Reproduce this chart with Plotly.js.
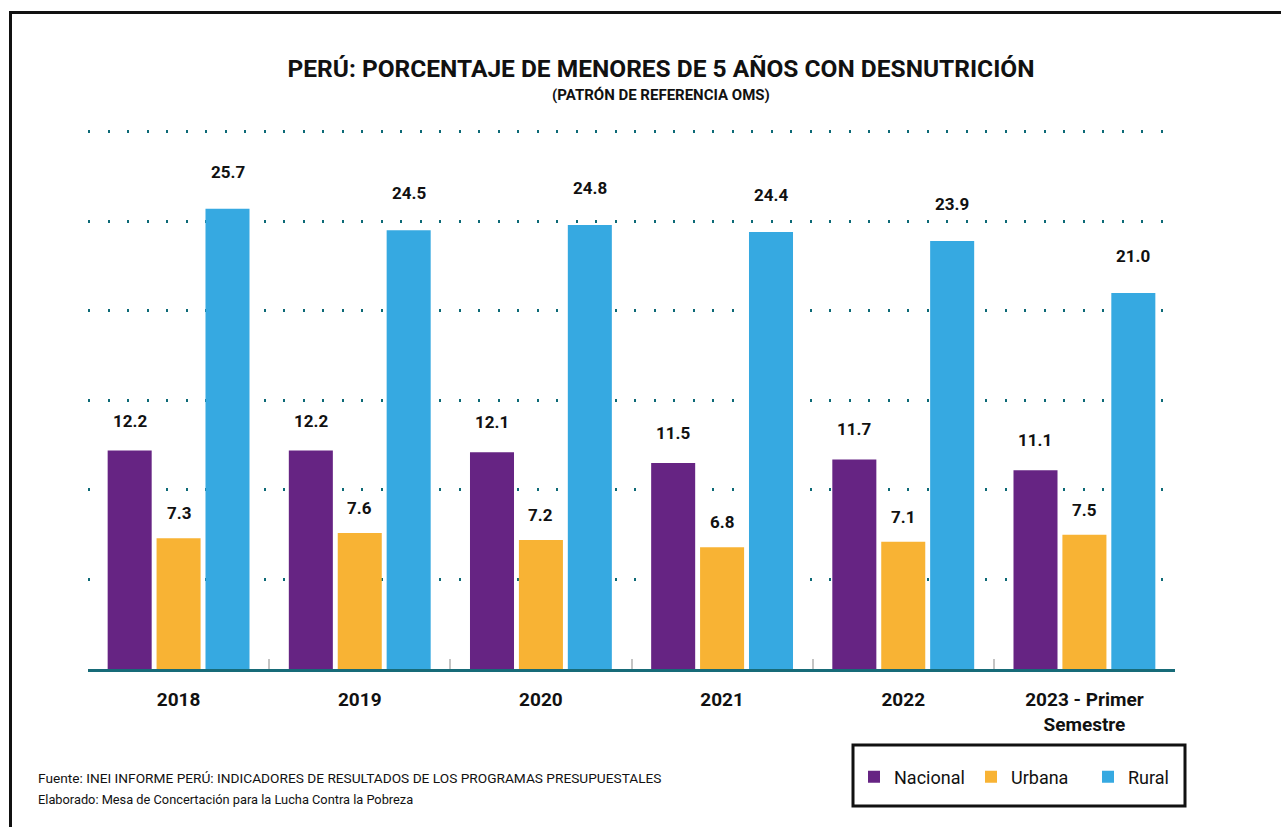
<!DOCTYPE html>
<html>
<head>
<meta charset="utf-8">
<script src="https://cdn.plot.ly/plotly-3.0.1.min.js"></script>
<style>
html,body{margin:0;padding:0;background:#fff;}
#wrap{position:relative;width:1281px;height:827px;}
#chart{position:absolute;left:0;top:0;width:1281px;height:827px;}
#frame{position:absolute;left:9px;top:11px;width:1272px;height:816px;border-left:3px solid #111;border-top:3px solid #111;box-sizing:border-box;pointer-events:none;}
</style>
</head>
<body>
<div id="wrap"><div id="chart"></div><div id="frame"></div></div>
<script>
const categories = ['2018', '2019', '2020', '2021', '2022', '2023 - Primer<br>Semestre'];
const nacional = [12.2, 12.2, 12.1, 11.5, 11.7, 11.1];
const urbana = [7.3, 7.6, 7.2, 6.8, 7.1, 7.5];
const rural = [25.7, 24.5, 24.8, 24.4, 23.9, 21.0];
const seriesNames = ['Nacional', 'Urbana', 'Rural'];
const seriesColors = ['#662483', '#F8B334', '#36A9E1'];

const FONT = 'Roboto, "Liberation Sans", Arial, sans-serif';
const allSeries = [nacional, urbana, rural];

// plot area geometry (pixels)
const L = 88, R = 106, T = 130, B = 158, W = 1281, H = 827;
const PW = W - L - R, PH = H - T - B;
const px2x = p => (p - L) / PW;
const py2y = p => (H - B - p) / PH;

const traces = allSeries.map((vals, i) => ({
  type: 'bar',
  name: seriesNames[i],
  x: categories,
  y: vals,
  marker: {color: seriesColors[i], line: {width: 0}},
  hoverinfo: 'x+y+name'
}));

const xShifts = [-49, 0, 49];
const yShifts = [30, 25, 37];
const annotations = [];
allSeries.forEach((vals, i) => {
  vals.forEach((v, j) => {
    annotations.push({
      x: j, y: v, xref: 'x', yref: 'y',
      text: v.toFixed(1), showarrow: false,
      xshift: xShifts[i], yshift: yShifts[i],
      font: {family: FONT, size: 17, color: '#111', weight: 'bold'}
    });
  });
});

annotations.push({
  xref: 'paper', yref: 'paper', x: px2x(661), y: py2y(95),
  xanchor: 'center', yanchor: 'middle', showarrow: false,
  text: '(PATRÓN DE REFERENCIA OMS)',
  font: {family: FONT, size: 15, color: '#111', weight: 'bold'}
});
annotations.push({
  xref: 'paper', yref: 'paper', x: px2x(36), y: py2y(778),
  xanchor: 'left', yanchor: 'middle', align: 'left', showarrow: false,
  text: 'Fuente: INEI INFORME PERÚ: INDICADORES DE RESULTADOS DE LOS PROGRAMAS PRESUPUESTALES',
  font: {family: FONT, size: 13.7, color: '#111'}
});
annotations.push({
  xref: 'paper', yref: 'paper', x: px2x(36), y: py2y(799),
  xanchor: 'left', yanchor: 'middle', align: 'left', showarrow: false,
  text: 'Elaborado: Mesa de Concertación para la Lucha Contra la Pobreza',
  font: {family: FONT, size: 12.8, color: '#111'}
});

const layout = {
  width: W, height: H,
  margin: {l: L, r: R, t: T, b: B, pad: 0},
  paper_bgcolor: 'rgba(0,0,0,0)',
  plot_bgcolor: 'rgba(0,0,0,0)',
  barmode: 'group',
  bargap: 0.19,
  bargroupgap: 0.1,
  title: {
    text: 'PERÚ: PORCENTAJE DE MENORES DE 5 AÑOS CON DESNUTRICIÓN',
    x: 661 / W, xanchor: 'center',
    y: 1 - 68 / H, yanchor: 'middle', yref: 'container', xref: 'container',
    font: {family: FONT, size: 24.5, color: '#111', weight: 'bold'}
  },
  xaxis: {
    type: 'category',
    range: [-0.5, 5.5],
    tickson: 'boundaries',
    ticks: 'inside', ticklen: 10, tickwidth: 2, tickcolor: '#c4c4c4',
    showline: true, linecolor: '#176b78', linewidth: 3,
    showgrid: false,
    tickangle: 0,
    tickfont: {family: FONT, size: 19, color: '#111', weight: 'bold'},
    ticklabelstandoff: 11,
    fixedrange: true
  },
  yaxis: {
    range: [0, 30.1], dtick: 5, tick0: 0,
    showgrid: true, gridcolor: '#0d6a77', gridwidth: 3, griddash: '2px,17.5px',
    zeroline: false, showline: false, showticklabels: false, ticks: '',
    fixedrange: true
  },
  showlegend: true,
  legend: {
    orientation: 'h',
    xref: 'container', yref: 'container',
    x: 854 / W, xanchor: 'left',
    y: 1 - 777 / H, yanchor: 'middle',
    entrywidth: 72, entrywidthmode: 'pixels',
    font: {family: FONT, size: 18, color: '#111'},
    bgcolor: 'rgba(0,0,0,0)', borderwidth: 0,
    traceorder: 'normal'
  },
  shapes: [{
    type: 'rect', xref: 'paper', yref: 'paper',
    x0: px2x(853), x1: px2x(1185),
    y0: py2y(806), y1: py2y(745),
    line: {color: '#111', width: 3}, fillcolor: 'rgba(0,0,0,0)'
  }],
  annotations: annotations
};

Plotly.newPlot('chart', traces, layout, {displayModeBar: false, staticPlot: true});
</script>
</body>
</html>
